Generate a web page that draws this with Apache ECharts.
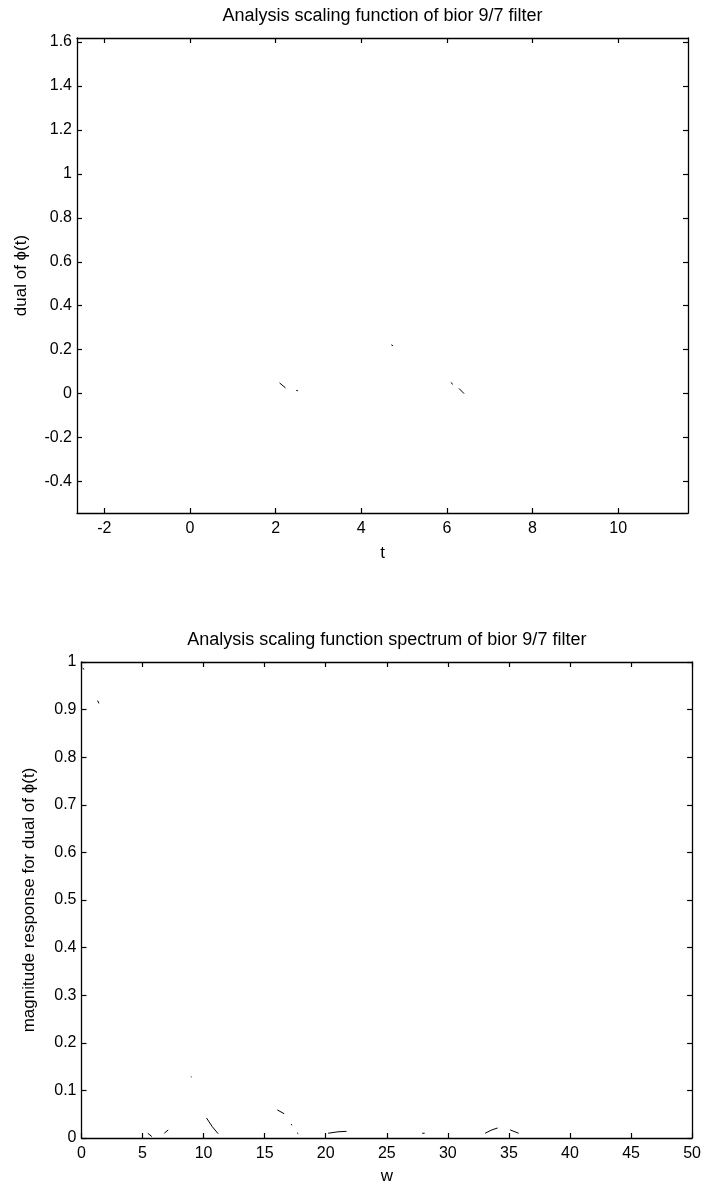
<!DOCTYPE html>
<html>
<head>
<meta charset="utf-8">
<script src="https://cdn.jsdelivr.net/npm/echarts@6/dist/echarts.min.js"></script>
<style>html,body{margin:0;padding:0;background:#fff}#c{width:704px;height:1189px}</style>
</head>
<body>
<div id="c"></div>
<script>
// ---- data (visible fragments of the scanned curves; null = gap) ----
var topTicksX = [-2, 0, 2, 4, 6, 8, 10];
var topTicksY = [-0.4, -0.2, 0, 0.2, 0.4, 0.6, 0.8, 1, 1.2, 1.4, 1.6];
var botTicksX = [0, 5, 10, 15, 20, 25, 30, 35, 40, 45, 50];
var botTicksY = [0, 0.1, 0.2, 0.3, 0.4, 0.5, 0.6, 0.7, 0.8, 0.9, 1];

var topT = [2.09, 2.23, null, 2.48, 2.52, null, 4.70, 4.74, null, 6.09, 6.14, null, 6.28, 6.40];
var topY = [0.049, 0.026, null, 0.015, 0.013, null, 0.222, 0.218, null, 0.051, 0.042, null, 0.024, 0.000];

var botW = [0.10, 0.20, null, 1.32, 1.42, null, 5.42, 5.76, null, 6.78, 7.10, null, 8.95, 9.02, null,
            10.24, 10.70, 11.19, null, 16.03, 16.60, null, 17.15, 17.25, null, 17.65, 17.75, null,
            20.2, 21.0, 21.7, null, 27.9, 28.1, null, 33.05, 33.6, 34.07, null, 35.1, 35.8];
var botMag = [0.988, 0.984, null, 0.919, 0.913, null, 0.010, 0.003, null, 0.010, 0.017, null, 0.129, 0.128, null,
              0.042, 0.024, 0.009, null, 0.059, 0.051, null, 0.029, 0.027, null, 0.011, 0.009, null,
              0.010, 0.013, 0.014, null, 0.010, 0.010, null, 0.010, 0.017, 0.021, null, 0.017, 0.010];

function pairs(xs, ys) {
  return xs.map(function (x, i) { return x === null ? [null, null] : [x, ys[i]]; });
}

var FONT = 'Liberation Sans, Arial, sans-serif';
var fmt = function (v) { return String(+(+v).toFixed(2)); };

function axis(isX, grid, min, max, ticks, pos, name, nameGap, nameSize) {
  var showLab = (pos === 'bottom' || pos === 'left');
  return {
    type: 'value', gridIndex: grid, min: min, max: max, position: pos,
    axisLine: { show: true, onZero: false, lineStyle: { color: '#000', width: 1.3 } },
    axisTick: { show: true, inside: true, length: 5, customValues: ticks, lineStyle: { color: '#000', width: 1.2 } },
    axisLabel: { show: showLab, customValues: ticks, formatter: fmt, color: '#000',
                 fontFamily: FONT, fontSize: 16, margin: isX ? 8 : 5 },
    splitLine: { show: false },
    name: name, nameLocation: 'middle', nameGap: nameGap,
    nameTextStyle: { color: '#000', fontFamily: FONT, fontSize: nameSize }
  };
}

var chart = echarts.init(document.getElementById('c'), null, { renderer: 'canvas' });
chart.setOption({
  animation: false,
  backgroundColor: '#fff',
  grid: [
    { left: 77, right: 16, top: 38, height: 475 },
    { left: 81.5, right: 11, top: 662, height: 476 }
  ],
  xAxis: [
    axis(true, 0, -2.64, 11.63, topTicksX, 'bottom', 't', 32, 17),
    axis(true, 0, -2.64, 11.63, topTicksX, 'top', 'Analysis scaling function of bior 9/7 filter', 13, 18),
    axis(true, 1, 0, 50, botTicksX, 'bottom', 'w', 30, 17),
    axis(true, 1, 0, 50, botTicksX, 'top', 'Analysis scaling function spectrum of bior 9/7 filter', 13, 18)
  ],
  yAxis: [
    axis(false, 0, -0.543, 1.618, topTicksY, 'left', 'dual of ϕ(t)', 47, 17),
    axis(false, 0, -0.543, 1.618, topTicksY, 'right', '', 0, 17),
    axis(false, 1, 0, 1, botTicksY, 'left', 'magnitude response for dual of ϕ(t)', 44, 17),
    axis(false, 1, 0, 1, botTicksY, 'right', '', 0, 17)
  ],
  series: [
    { type: 'line', xAxisIndex: 0, yAxisIndex: 0, data: pairs(topT, topY), showSymbol: false,
      connectNulls: false, lineStyle: { color: '#000', width: 1 } },
    { type: 'line', xAxisIndex: 2, yAxisIndex: 2, data: pairs(botW, botMag), showSymbol: false,
      connectNulls: false, lineStyle: { color: '#000', width: 1 } }
  ]
});
</script>
</body>
</html>
